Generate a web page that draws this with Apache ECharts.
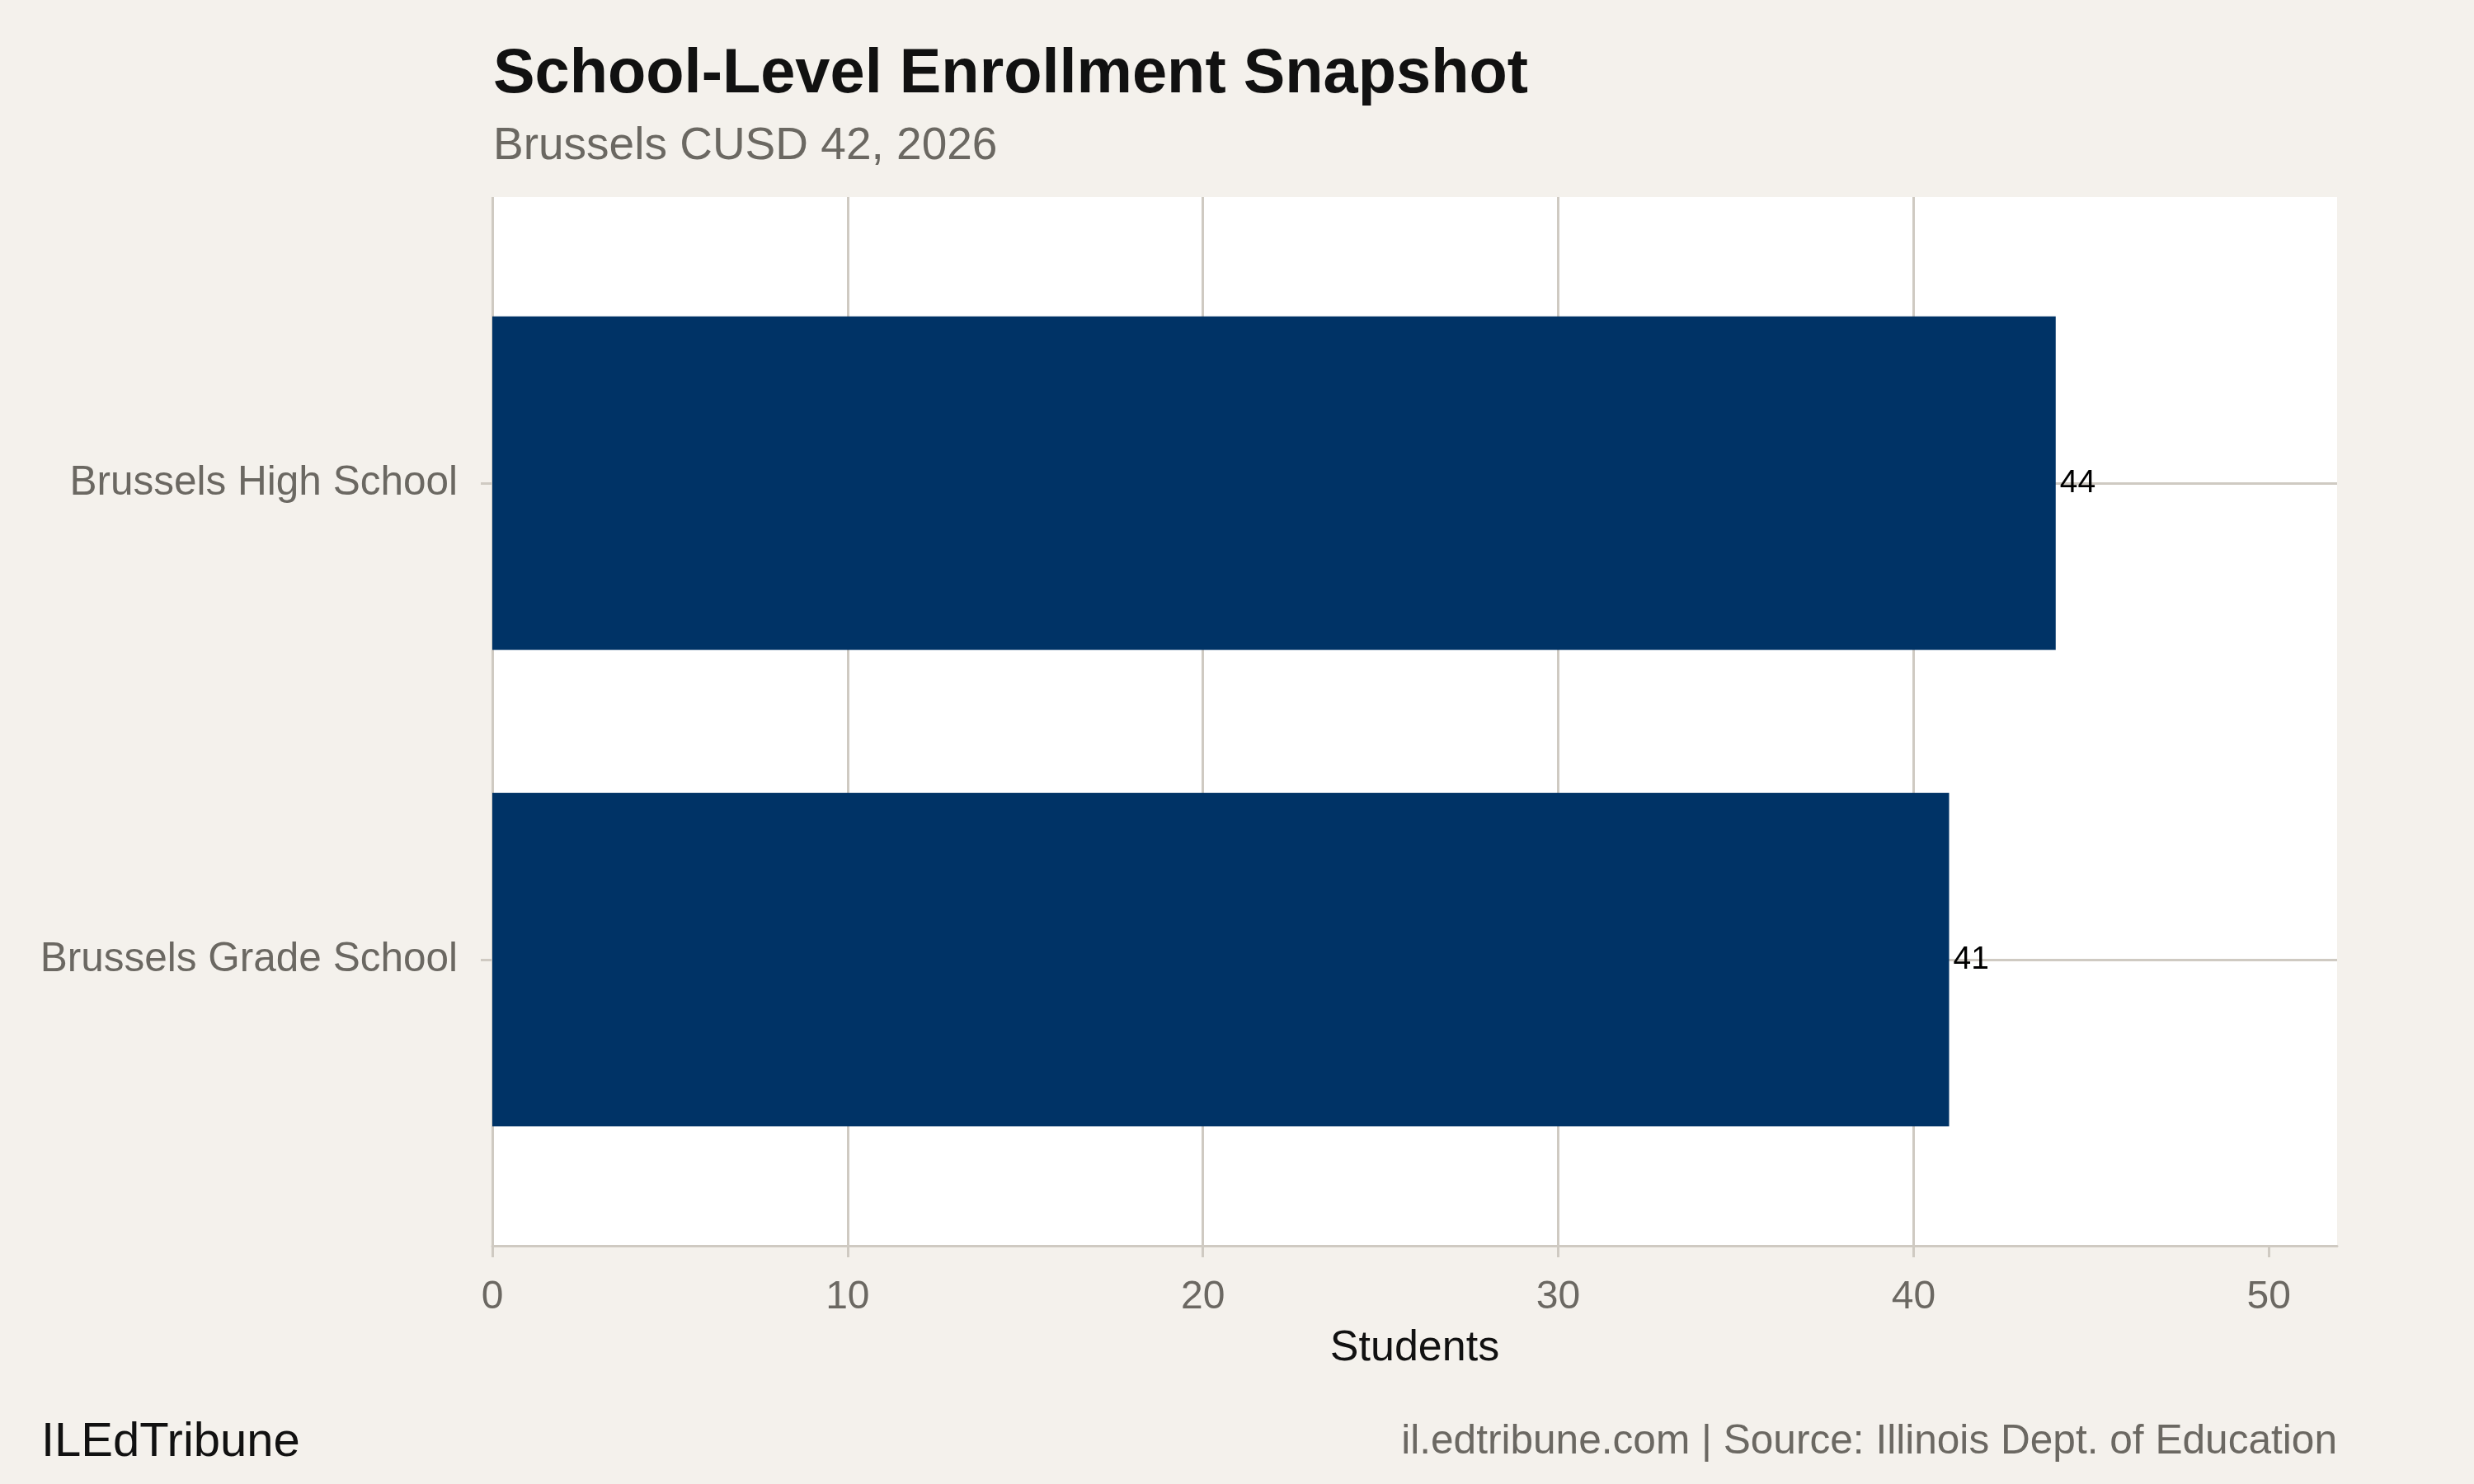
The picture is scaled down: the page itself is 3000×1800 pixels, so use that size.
<!DOCTYPE html>
<html>
<head>
<meta charset="utf-8">
<title>School-Level Enrollment Snapshot</title>
<script src="https://cdn.jsdelivr.net/npm/echarts@6/dist/echarts.min.js"></script>
<style>
  html, body { margin: 0; padding: 0; background: #f4f1ec; }
  #chart { width: 3000px; height: 1800px; }
</style>
</head>
<body>
<div id="chart"></div>
<script>
// data
const schools = ['Brussels Grade School', 'Brussels High School'];
const students = [41, 44];
const xTicks = [0, 10, 20, 30, 40, 50];
const xMax = 51.92;

const titleText = 'School-Level Enrollment Snapshot';
const subtitleText = 'Brussels CUSD 42, 2026';
const brandText = 'ILEdTribune';
const sourceText = 'il.edtribune.com | Source: Illinois Dept. of Education';

const gridColor = '#cfcac2';
const labelGray = '#6b6862';

const chart = echarts.init(document.getElementById('chart'));

// panel = grid 0, bars live in grid 1 (sized so category centres match)
const panel = {left: 597, right: 166, top: 239, bottom: 289};
const barGrid = {left: 597, right: 166, top: 297, bottom: 347};

const option = {
    backgroundColor: '#f4f1ec',
    textStyle: {fontFamily: 'Liberation Sans'},
    animation: false,
    title: [
        {
            text: titleText, left: 598, top: 53, padding: 0,
            textStyle: {fontSize: 75.8, fontWeight: 'bold', color: '#111111'}
        },
        {
            text: subtitleText, left: 598, top: 150, padding: 0,
            textStyle: {fontSize: 55, fontWeight: 'normal', color: labelGray}
        },
        {
            text: brandText, left: 50, top: 1721, padding: 0,
            textStyle: {fontSize: 58, fontWeight: 'normal', color: '#111111'}
        },
        {
            text: sourceText, right: 166, top: 1724, padding: 0,
            textStyle: {fontSize: 49.6, fontWeight: 'normal', color: labelGray}
        }
    ],
    grid: [
        Object.assign({show: true, backgroundColor: '#ffffff', borderWidth: 0, z: -1}, panel),
        Object.assign({show: false}, barGrid)
    ],
    xAxis: [
        {
            gridIndex: 0, type: 'value', min: 0, max: xMax, interval: 10,
            name: 'Students', nameLocation: 'middle', nameGap: 99,
            nameTextStyle: {fontSize: 52, color: '#111111'},
            axisLine: {show: true, lineStyle: {color: gridColor, width: 3}},
            axisTick: {show: true, length: 14, customValues: xTicks, lineStyle: {color: gridColor, width: 3}},
            axisLabel: {fontSize: 48, color: labelGray, margin: 39, customValues: xTicks},
            splitLine: {show: true, showMaxLine: false, lineStyle: {color: gridColor, width: 3}}
        },
        {
            gridIndex: 1, type: 'value', min: 0, max: xMax, show: false
        }
    ],
    yAxis: [
        {gridIndex: 0, type: 'value', show: false},
        {
            gridIndex: 1, type: 'category', data: schools, position: 'left', offset: 0,
            axisLine: {show: false},
            axisTick: {show: true, alignWithLabel: true, length: 14, lineStyle: {color: gridColor, width: 3}},
            axisLabel: {fontSize: 49.5, color: labelGray, margin: 42, padding: [14, 0, 0, 0]},
            splitLine: {show: false}
        },
        {
            // horizontal grid lines through the category centres
            gridIndex: 1, type: 'category', data: schools, position: 'left', offset: 0,
            axisLine: {show: false},
            axisTick: {show: true, inside: true, alignWithLabel: true, length: 2237, lineStyle: {color: gridColor, width: 3}},
            axisLabel: {show: false},
            splitLine: {show: false}
        }
    ],
    series: [
        {
            type: 'bar',
            xAxisIndex: 1,
            yAxisIndex: 1,
            data: students,
            barWidth: '70%',
            itemStyle: {color: '#003366'},
            label: {
                show: true, position: 'right', distance: 5,
                fontSize: 39, color: '#000000'
            },
            silent: true
        }
    ]
};

chart.setOption(option);
</script>
</body>
</html>
